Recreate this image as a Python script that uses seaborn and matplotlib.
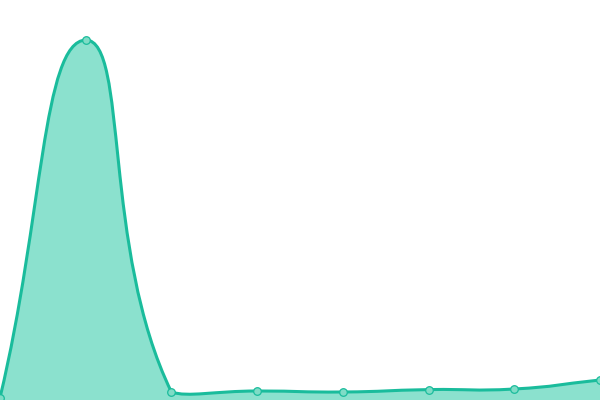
import numpy as np
import pandas as pd
import matplotlib
matplotlib.use("Agg")
import matplotlib.pyplot as plt
import seaborn as sns
from matplotlib.path import Path
from matplotlib.patches import PathPatch

# ---- data ----
categories = [0, 1, 2, 3, 4, 5, 6, 7]
values = [0.6, 90.0, 2.0, 2.25, 2.0, 2.6, 2.75, 5.0]

LINE = "#1abc9c"
FILL = "#8be1ce"
MARK_FACE = "#7fdcc6"

sns.set_theme(style="white")
fig = plt.figure(figsize=(6, 4), dpi=100)
ax = fig.add_axes([0, 0, 1, 1])
ax.set_xlim(0, 7)
ax.set_ylim(0, 100)
ax.axis("off")

df = pd.DataFrame({"x": categories, "y": values})

# smooth bezier (echarts-like, smooth=0.5 with bbox constraint) in display coords
pts = ax.transData.transform(np.column_stack([df["x"], df["y"]]))
smooth = 0.5
mn = pts.min(axis=0)
mx = pts.max(axis=0)
n = len(pts)
cps = []
for i in range(n):
    p = pts[i]
    prev = pts[i - 1] if i > 0 else p
    nxt = pts[i + 1] if i < n - 1 else p
    v = (nxt - prev) * smooth
    d0 = np.hypot(*(p - prev))
    d1 = np.hypot(*(p - nxt))
    s = d0 + d1
    if s:
        d0 /= s
        d1 /= s
    c0 = np.clip(p - v * d0, mn, mx)
    c1 = np.clip(p + v * d1, mn, mx)
    cps.append((c0, c1))

inv = ax.transData.inverted()
verts = [pts[0]]
codes = [Path.MOVETO]
for i in range(n - 1):
    verts += [cps[i][1], cps[i + 1][0], pts[i + 1]]
    codes += [Path.CURVE4] * 3
verts_d = inv.transform(np.array(verts))

line_path = Path(verts_d, codes)
area_verts = list(verts_d) + [(df["x"].iloc[-1], 0), (df["x"].iloc[0], 0), verts_d[0]]
area_codes = codes + [Path.LINETO, Path.LINETO, Path.CLOSEPOLY]
ax.add_patch(PathPatch(Path(area_verts, area_codes), facecolor=FILL, edgecolor="none", zorder=1))
ax.add_patch(PathPatch(line_path, facecolor="none", edgecolor=LINE, linewidth=2.2,
                       capstyle="round", joinstyle="round", zorder=2))

sns.scatterplot(data=df, x="x", y="y", ax=ax, s=30, color=MARK_FACE,
                edgecolor=LINE, linewidth=0.9, zorder=3, clip_on=False, legend=False)
ax.set_xlabel("")
ax.set_ylabel("")
ax.axis("off")

fig.savefig("out.png", dpi=100)
